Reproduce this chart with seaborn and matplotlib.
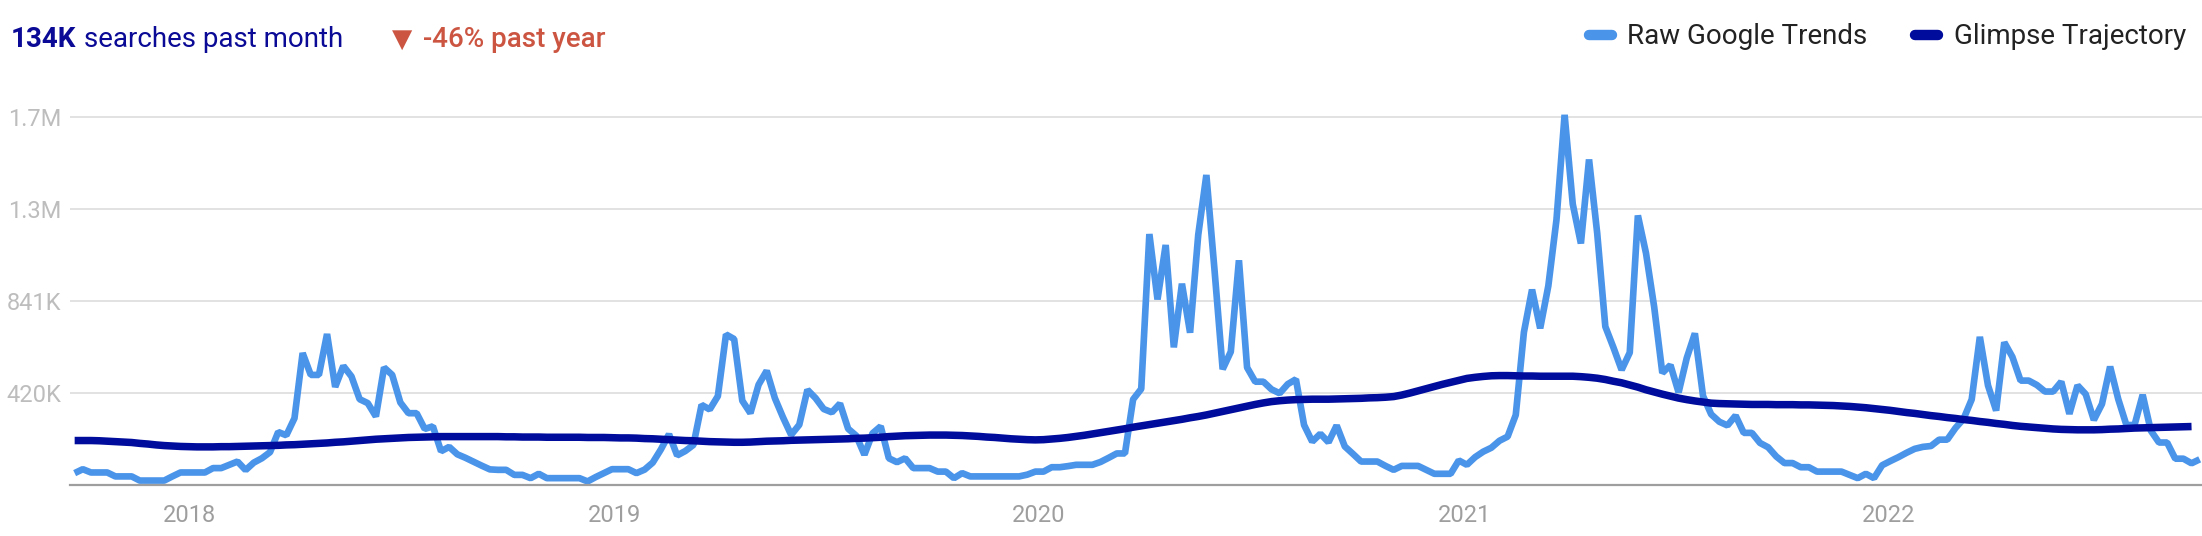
import pandas as pd
import seaborn as sns
import matplotlib.pyplot as plt
from matplotlib.lines import Line2D
import numpy as np

sns.set_style("white")
plt.rcParams["font.family"] = ["Roboto", "DejaVu Sans"]

# weekly values, in thousands of searches
raw_trends = [
    52, 70, 55, 55, 55, 37, 37, 37, 18, 18,
    18, 18, 37, 55, 55, 55, 55, 75, 75, 90,
    105, 66, 100, 120, 148, 240, 225, 303, 601, 501,
    501, 688, 446, 542, 494, 390, 372, 311, 535, 501,
    375, 326, 326, 254, 266, 152, 172, 138, 122, 104,
    86, 69, 67, 67, 44, 44, 29, 49, 29, 29,
    29, 29, 29, 14, 34, 52, 70, 70, 70, 52,
    68, 100, 160, 230, 133, 153, 181, 364, 343, 404,
    686, 665, 383, 326, 456, 520, 395, 307, 227, 273,
    433, 395, 345, 330, 370, 255, 223, 136, 234, 266,
    120, 102, 120, 75, 75, 75, 59, 59, 29, 52,
    37, 37, 37, 37, 37, 37, 37, 45, 59, 59,
    79, 79, 84, 90, 90, 90, 103, 122, 142, 142,
    389, 437, 1145, 846, 1095, 627, 918, 694, 1141, 1415,
    981, 527, 607, 1025, 535, 470, 470, 435, 417, 459,
    481, 272, 196, 232, 193, 270, 174, 140, 105, 105,
    105, 85, 67, 85, 85, 85, 67, 49, 49, 49,
    110, 90, 125, 150, 168, 200, 219, 318, 696, 891,
    714, 908, 1210, 1690, 1282, 1102, 1486, 1150, 722, 626,
    524, 603, 1230, 1057, 812, 510, 546, 421, 578, 691,
    405, 321, 287, 270, 315, 236, 236, 190, 170, 128,
    98, 98, 79, 79, 59, 59, 59, 59, 44, 29,
    49, 29, 88, 107, 125, 145, 163, 172, 176, 205,
    205, 258, 300, 389, 675, 453, 338, 650, 583, 475,
    475, 455, 425, 425, 470, 323, 453, 413, 295, 368,
    539, 390, 272, 272, 410, 246, 192, 192, 118, 118,
    97, 115,
]

glimpse_trajectory = [
    201, 201, 201, 200, 198, 196, 194, 192, 188, 185,
    181, 178, 176, 174, 173, 172, 172, 172, 173, 173,
    174, 175, 176, 177, 178, 179, 181, 182, 184, 186,
    188, 190, 193, 195, 198, 201, 204, 207, 209, 211,
    213, 215, 216, 217, 218, 219, 219, 219, 219, 219,
    219, 219, 219, 218, 218, 217, 217, 217, 216, 216,
    216, 216, 216, 215, 215, 215, 214, 213, 213, 212,
    210, 209, 207, 205, 203, 201, 200, 198, 196, 195,
    194, 193, 193, 194, 196, 198, 199, 200, 202, 203,
    204, 205, 206, 207, 208, 209, 211, 212, 214, 216,
    219, 221, 223, 224, 225, 226, 226, 226, 225, 224,
    222, 220, 217, 215, 212, 209, 207, 205, 204, 205,
    208, 211, 215, 220, 225, 231, 237, 243, 249, 255,
    262, 268, 274, 280, 286, 292, 298, 305, 311, 318,
    326, 334, 342, 350, 358, 366, 373, 379, 383, 386,
    388, 389, 390, 390, 390, 391, 392, 393, 394, 396,
    397, 399, 402, 409, 418, 428, 438, 448, 458, 467,
    476, 485, 490, 494, 497, 498, 498, 497, 496, 496,
    495, 495, 495, 495, 495, 493, 490, 486, 480, 472,
    465, 455, 445, 433, 423, 413, 404, 395, 388, 382,
    377, 372, 370, 369, 368, 367, 366, 366, 366, 365,
    365, 365, 364, 364, 363, 362, 361, 359, 357, 354,
    351, 347, 343, 339, 334, 329, 325, 320, 315, 311,
    306, 302, 297, 293, 288, 284, 279, 275, 270, 266,
    263, 260, 257, 254, 252, 251, 250, 250, 250, 251,
    253, 254, 256, 258, 259, 260, 261, 262, 263, 264,
    265, np.nan,
]

weeks = pd.date_range("2017-09-24", periods=len(raw_trends), freq="7D")

y_ticks = [420500, 841000, 1261500, 1682000]
y_tick_labels = ["420K", "841K", "1.3M", "1.7M"]
year_ticks = pd.to_datetime(["2018-01-01", "2019-01-01", "2020-01-01", "2021-01-01", "2022-01-01"])
year_labels = ["2018", "2019", "2020", "2021", "2022"]

df = pd.DataFrame({
    "week": weeks,
    "raw": np.array(raw_trends) * 1000,
    "trajectory": np.array(glimpse_trajectory) * 1000,
})

light_blue = "#4a94ea"
dark_blue = "#000c9c"

fig = plt.figure(figsize=(22.02, 5.36), dpi=100)
ax = fig.add_axes([70 / 2202, 51.5 / 536, 2132 / 2202, 414.5 / 536])

sns.lineplot(data=df, x="week", y="raw", ax=ax, color=light_blue, linewidth=4.8,
             solid_joinstyle="bevel", solid_capstyle="butt", legend=False)
sns.lineplot(data=df, x="week", y="trajectory", ax=ax, color=dark_blue, linewidth=5.4,
             solid_capstyle="butt", legend=False)

ax.set_xlim(pd.Timestamp("2017-09-20"), pd.Timestamp("2022-09-27"))
ax.set_ylim(0, 1895000)
ax.set_yticks(y_ticks)
ax.set_yticklabels(y_tick_labels)
ax.set_xticks(year_ticks)
ax.set_xticklabels(year_labels)
ax.set_xlabel("")
ax.set_ylabel("")

ax.grid(True, axis="y", color="#dddddd", linewidth=1.2)
ax.set_axisbelow(True)
for side in ["top", "right", "left"]:
    ax.spines[side].set_visible(False)
ax.spines["bottom"].set_color("#9e9e9e")
ax.spines["bottom"].set_linewidth(1.6)

ax.tick_params(axis="both", length=0, labelsize=17)
ax.tick_params(axis="y", pad=6, labelcolor="#bdbdbd")
ax.tick_params(axis="x", pad=14, labelcolor="#9e9e9e")

# header line
base_y = 1 - 47 / 536
fig.text(11 / 2202, base_y, "134K", fontsize=20, fontweight="bold", color="#0a0a96", va="baseline")
fig.text(84 / 2202, base_y, "searches past month", fontsize=20, color="#0a0a96", va="baseline")
fig.text(392 / 2202, base_y, "\u25bc", fontsize=19, color="#cc5542", va="baseline",
         family=["DejaVu Sans"])
fig.text(423 / 2202, base_y, "-46% past year", fontsize=20, fontweight="medium",
         color="#cc5542", va="baseline")

handles = [
    Line2D([], [], color=light_blue, linewidth=7.5, solid_capstyle="round"),
    Line2D([], [], color=dark_blue, linewidth=7.5, solid_capstyle="round"),
]
fig.legend(handles, ["Raw Google Trends", "Glimpse Trajectory"], loc="center right",
           bbox_to_anchor=(2186 / 2202, 1 - 37 / 536), ncol=2, frameon=False,
           fontsize=20, handlelength=0.85, handletextpad=0.55, columnspacing=1.7,
           borderpad=0, borderaxespad=0, labelcolor="#222222")

fig.savefig("out.png", dpi=100)
